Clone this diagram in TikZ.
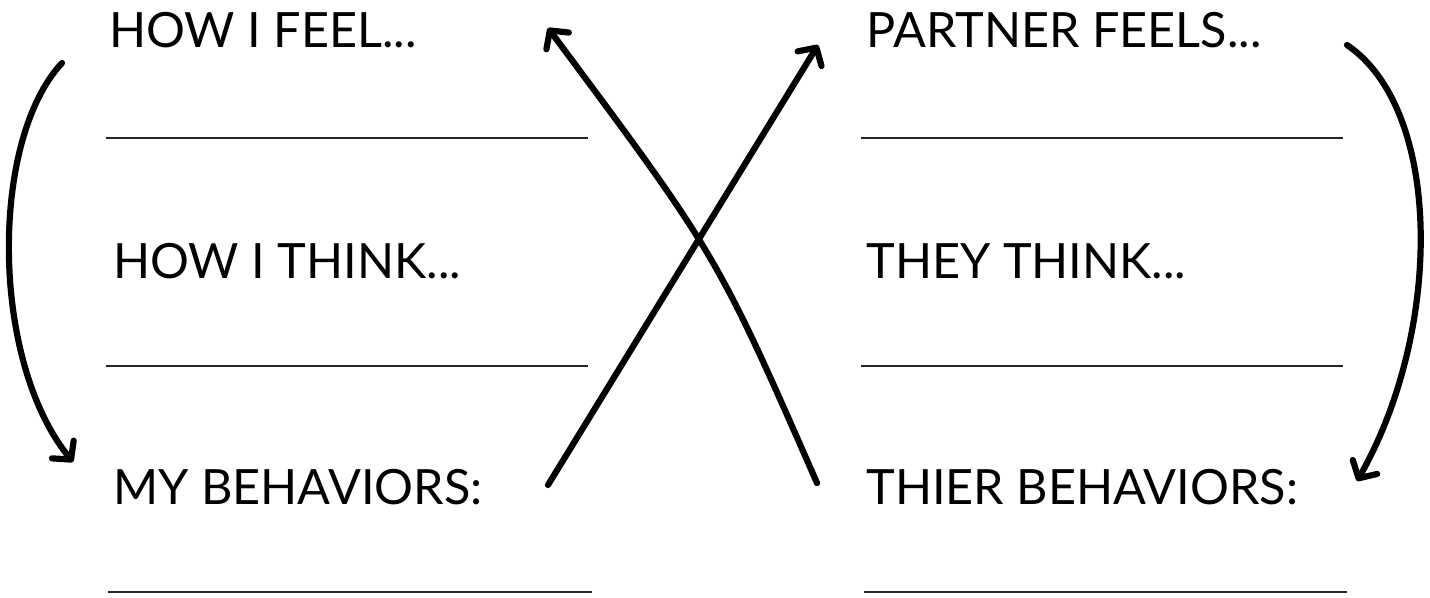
\documentclass[tikz,border=0pt]{standalone}
\usepackage{fontspec}
\setmainfont{Lato}
\usetikzlibrary{arrows.meta}
\begin{document}
\begin{tikzpicture}[x=0.5pt,y=-0.5pt,
  txt/.style={anchor=base west,inner sep=0pt,font=\fontsize{24.3pt}{28pt}\selectfont},
  blank/.style={line width=1.3pt,draw=black!85},
  arr/.style={line width=3.1pt,line cap=round,-{Straight Barb[length=6.5pt,width=14pt,round]}}]
\useasboundingbox (0,0) rectangle (1430,598);
% texts
\node[txt] (feel)  at (109,48)  {HOW I FEEL...};
\node[txt] (think) at (113,279) {HOW I THINK...};
\node[txt] (beh)   at (113,505) {MY BEHAVIORS:};
\node[txt] (pfeel) at (866,48)  {PARTNER FEELS...};
\node[txt] (pthink) at (866,279) {THEY THINK...};
\node[txt] (pbeh)  at (866,505) {THIER BEHAVIORS:};
% blank lines
\coordinate (la1) at (106,138); \coordinate (lb1) at (588,138);
\coordinate (la2) at (106,366); \coordinate (lb2) at (588,366);
\coordinate (la3) at (108,592); \coordinate (lb3) at (592,592);
\coordinate (ra1) at (861,138); \coordinate (rb1) at (1343,138);
\coordinate (ra2) at (861,366); \coordinate (rb2) at (1343,366);
\coordinate (ra3) at (864,592); \coordinate (rb3) at (1347,592);
\foreach \i in {1,2,3}{
  \draw[blank] (la\i) -- (lb\i);
  \draw[blank] (ra\i) -- (rb\i);
}
% arrow ends
\coordinate (l1) at (62,63);   \coordinate (l2) at (73,462);
\coordinate (r1) at (1347,45); \coordinate (r2) at (1357,481);
\coordinate (a1) at (548,485); \coordinate (a2) at (818,45);
\coordinate (b1) at (817,483); \coordinate (b2) at (548,28);
\draw[arr] (l1) .. controls (-10,140) and (-10,360) .. (l2);
\draw[arr] (r1) .. controls (1443,110) and (1443,330) .. (r2);
\draw[arr] (a1) -- (a2);
\draw[arr] (b1) .. controls (717,255) .. (b2);
\end{tikzpicture}
\end{document}
